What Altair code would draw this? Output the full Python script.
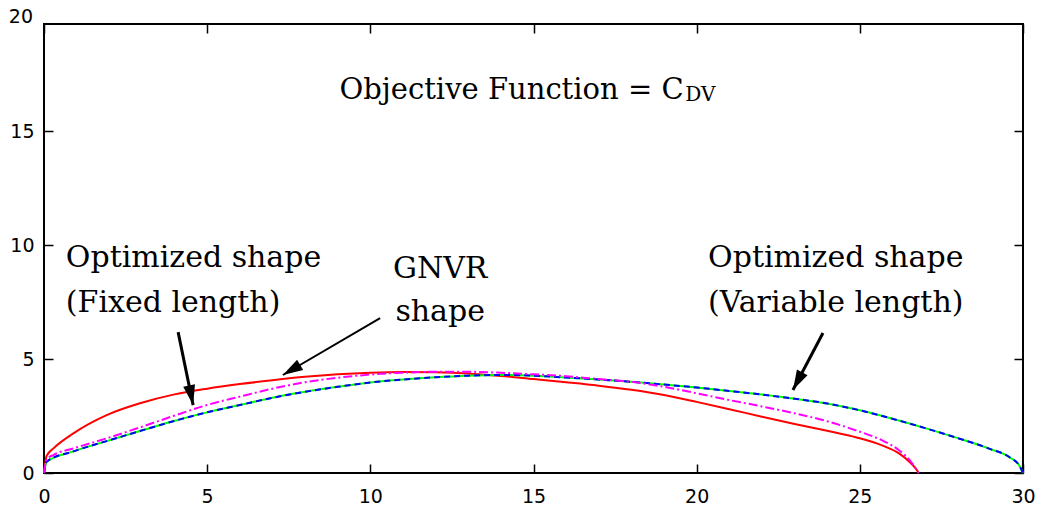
import math
import altair as alt
import pandas as pd

# ---------------- data ----------------
# Optimized shape (fixed length) - red
x_red = [0, 0.08, 0.29, 0.9, 1.92, 2.94, 4.0, 5.0, 6.0, 7.0, 8.0, 9.0, 10.0, 11.0, 12.0,
         13.0, 14.0, 15.0, 16.0, 17.0, 18.0, 19.0, 20.0, 21.0, 22.0, 23.0, 24.0, 24.9,
         25.7, 26.2, 26.55, 26.75, 26.8]
y_red = [0, 0.75, 1.08, 1.74, 2.54, 3.06, 3.45, 3.7, 3.9, 4.07, 4.22, 4.33, 4.4, 4.43, 4.42,
         4.37, 4.26, 4.12, 3.98, 3.83, 3.65, 3.42, 3.12, 2.8, 2.47, 2.15, 1.85, 1.56,
         1.2, 0.86, 0.45, 0.12, 0]

# GNVR shape - magenta
x_gnvr = [0, 0.08, 0.3, 0.9, 1.92, 2.94, 3.96, 4.99, 6.0, 7.03, 8.0, 9.0, 10.0, 11.0, 12.0,
          13.0, 14.0, 15.0, 16.0, 17.0, 18.0, 19.0, 20.0, 21.0, 22.0, 23.0, 24.0, 24.9,
          25.7, 26.2, 26.55, 26.75, 26.8]
y_gnvr = [0, 0.6, 0.8, 1.08, 1.52, 2.0, 2.5, 2.98, 3.35, 3.71, 3.98, 4.18, 4.32, 4.4, 4.44,
          4.44, 4.4, 4.33, 4.25, 4.12, 4.0, 3.78, 3.5, 3.2, 2.92, 2.62, 2.27, 1.86,
          1.42, 1.0, 0.52, 0.12, 0]

# Optimized shape (variable length) - green solid + blue dashed
x_var = [0, 0.08, 0.9, 1.92, 2.94, 3.96, 4.99, 6.0, 7.0, 8.0, 9.0, 10.0, 11.0, 12.0, 13.0,
         14.0, 15.0, 16.0, 17.0, 18.0, 19.0, 20.0, 21.0, 22.0, 23.0, 24.0, 25.0, 26.0,
         27.0, 28.0, 29.0, 29.6, 29.9, 30.0]
y_var = [0, 0.5, 0.95, 1.4, 1.84, 2.27, 2.66, 2.98, 3.3, 3.56, 3.78, 3.97, 4.1, 4.2, 4.27,
         4.3, 4.27, 4.19, 4.1, 4.0, 3.88, 3.75, 3.6, 3.44, 3.26, 3.05, 2.75, 2.38,
         1.97, 1.53, 1.05, 0.68, 0.3, 0]

x_ticks = [0, 5, 10, 15, 20, 25, 30]
y_ticks = [0, 5, 10, 15, 20]
y_ticks_in = [0, 5, 10, 15]

ann_text = ["Optimized shape", "(Fixed length)", "GNVR", "shape",
            "Optimized shape", "(Variable length)"]
ann_x = [0.67, 0.67, 12.14, 12.14, 20.35, 20.35]
ann_y = [9.04, 7.06, 8.55, 6.67, 9.04, 7.06]
ann_align = ["left", "left", "center", "center", "left", "left"]

title_main = ["Objective Function = C"]
title_main_x = [19.6]
title_main_y = [16.4]
title_sub = ["DV"]
title_sub_x = [19.65]
title_sub_y = [16.3]

arrow_x1 = [4.11, 10.30, 23.87]
arrow_y1 = [6.18, 6.80, 6.14]
arrow_x2 = [4.57, 7.32, 22.95]
arrow_y2 = [2.98, 4.30, 3.64]
arrow_w = [3, 2, 3]

# ---------------- chart ----------------
W, H = 979, 449
XMAX, YMAX = 30, 19.7
xsc = alt.Scale(domain=[0, XMAX], nice=False, zero=False)
ysc = alt.Scale(domain=[0, YMAX], nice=False, zero=False)

LBL = dict(labelFont="DejaVu Sans", labelFontSize=19, labelColor="black",
           labelFlush=False, labelOverlap=False, labelBound=False)
ax_xlab = alt.Axis(orient="bottom", values=x_ticks, ticks=False, tickSize=0, domain=False,
                   grid=False, labelPadding=14, title=None, **LBL)
ax_ylab = alt.Axis(orient="left", values=y_ticks_in, ticks=False, tickSize=0, domain=False,
                   grid=False, labelPadding=10, title=None, **LBL)
TK = dict(labels=False, domain=False, grid=False, ticks=True, tickSize=9,
          tickColor="black", tickWidth=1.5, title=None)
ax_xin_b = alt.Axis(orient="top", offset=-H, values=x_ticks, **TK)
ax_xin_t = alt.Axis(orient="bottom", offset=-H, values=x_ticks, **TK)
ax_yin_l = alt.Axis(orient="right", offset=-W, values=y_ticks_in, **TK)
ax_yin_r = alt.Axis(orient="left", offset=-W, values=y_ticks_in, **TK)

df_red = pd.DataFrame({"x": x_red, "y": y_red})
df_gnvr = pd.DataFrame({"x": x_gnvr, "y": y_gnvr})
df_var = pd.DataFrame({"x": x_var, "y": y_var})


def X(f, axis=None):
    return alt.X(f, type="quantitative", scale=xsc, axis=axis)


def Y(f, axis=None):
    return alt.Y(f, type="quantitative", scale=ysc, axis=axis)


red = alt.Chart(df_red).mark_line(color="#ff0000", strokeWidth=2, interpolate="monotone").encode(
    x=X("x", ax_xlab), y=Y("y", ax_ylab))
green = alt.Chart(df_var).mark_line(color="#00ff00", strokeWidth=2, interpolate="monotone").encode(
    x=X("x", ax_xin_b), y=Y("y", ax_yin_l))
blue = alt.Chart(df_var).mark_line(color="#0000ff", strokeWidth=2, strokeDash=[6, 4],
                                   interpolate="monotone").encode(
    x=X("x", ax_xin_t), y=Y("y", ax_yin_r))
magenta = alt.Chart(df_gnvr).mark_line(color="#ff00ff", strokeWidth=2, strokeDash=[9, 3, 2, 3],
                                       interpolate="monotone").encode(
    x=X("x"), y=Y("y"))

# tick label above the frame (20)
df_top = pd.DataFrame({"v": [v for v in y_ticks if v > YMAX]})
df_top["t"] = df_top["v"].astype(str)
top_lbl = alt.Chart(df_top).mark_text(font="DejaVu Sans", fontSize=19, color="black",
                                      align="right", baseline="middle", dx=-11).encode(
    x=alt.value(0), y=Y("v"), text="t:N")

df_ann = pd.DataFrame({"t": ann_text, "x": ann_x, "y": ann_y, "a": ann_align})
ann_left = alt.Chart(df_ann).transform_filter(alt.datum.a == "left").mark_text(
    font="DejaVu Serif", fontSize=30, color="black", align="left", baseline="alphabetic").encode(
    x=X("x"), y=Y("y"), text="t:N")
ann_center = alt.Chart(df_ann).transform_filter(alt.datum.a == "center").mark_text(
    font="DejaVu Serif", fontSize=30, color="black", align="center", baseline="alphabetic").encode(
    x=X("x"), y=Y("y"), text="t:N")

df_tm = pd.DataFrame({"t": title_main, "x": title_main_x, "y": title_main_y})
df_ts = pd.DataFrame({"t": title_sub, "x": title_sub_x, "y": title_sub_y})
t_main = alt.Chart(df_tm).mark_text(font="DejaVu Serif", fontSize=29, color="black",
                                     align="right", baseline="alphabetic").encode(
    x=X("x"), y=Y("y"), text="t:N")
t_sub = alt.Chart(df_ts).mark_text(font="DejaVu Serif", fontSize=20, color="black",
                                    align="left", baseline="alphabetic").encode(
    x=X("x"), y=Y("y"), text="t:N")

sx, sy = W / XMAX, H / YMAX
angles = []
for a, b, c, d in zip(arrow_x1, arrow_y1, arrow_x2, arrow_y2):
    dx = (c - a) * sx
    dy = -(d - b) * sy
    angles.append(math.degrees(math.atan2(dx, -dy)) % 360)
df_arr = pd.DataFrame({"x1": arrow_x1, "y1": arrow_y1, "x2": arrow_x2, "y2": arrow_y2,
                       "w": arrow_w, "ang": angles})
shafts = alt.Chart(df_arr).mark_rule(color="black").encode(
    x=X("x1"), y=Y("y1"), x2="x2", y2="y2", strokeWidth=alt.StrokeWidth("w:Q", scale=None))
heads = alt.Chart(df_arr).mark_point(shape="M0,0L-0.6,2L0.6,2Z", filled=True, color="black",
                                     opacity=1, size=400, strokeWidth=0).encode(
    x=X("x2"), y=Y("y2"), angle=alt.Angle("ang:Q", scale=None))

chart = alt.layer(red, green, blue, magenta, shafts, heads, ann_left, ann_center, t_main, t_sub,
                  top_lbl).resolve_axis(
    x="independent", y="independent").properties(
    width=W, height=H, autosize="none", background="white",
    padding={"left": 44, "top": 24, "right": 16, "bottom": 35}).configure_view(
    stroke="black", strokeWidth=2)

chart.save("out.html", embed_options={"renderer": "svg", "actions": False})
